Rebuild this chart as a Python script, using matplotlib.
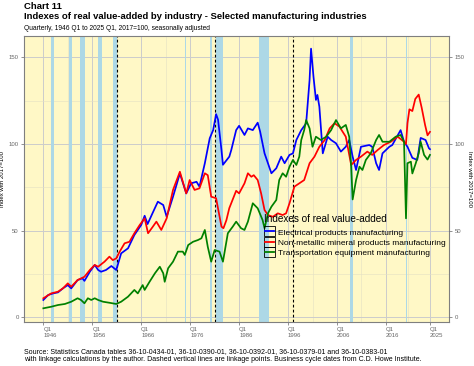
import numpy as np
import matplotlib.pyplot as plt
from matplotlib.lines import Line2D
from matplotlib.patches import Rectangle
from matplotlib.legend_handler import HandlerBase

plt.rcParams['font.family'] = ['Liberation Sans', 'DejaVu Sans']

# ── Data (year, index 2017=100) ───────────────────────────────────────────
elec_year = [1946.0, 1947.0, 1948.0, 1949.0, 1950.0, 1951.0, 1951.7, 1953.0,
             1954.0, 1954.4, 1955.5, 1956.5, 1957.2, 1957.8, 1958.8, 1959.9,
             1960.9, 1961.9, 1963.3, 1964.6, 1966.0, 1966.7, 1967.3, 1968.3,
             1969.4, 1970.5, 1971.2, 1972.5, 1973.9, 1975.2, 1976.2, 1977.3,
             1977.9, 1979.0, 1980.0, 1980.7, 1981.3, 1981.7, 1982.4, 1982.7,
             1984.0, 1984.4, 1985.4, 1986.0, 1987.1, 1987.8, 1988.8, 1989.8,
             1990.3, 1991.2, 1992.6, 1993.6, 1994.6, 1995.3, 1996.3, 1997.0,
             1997.7, 1998.7, 1999.7, 2000.4, 2000.7, 2001.2, 2001.7, 2002.0,
             2002.4, 2003.1, 2004.1, 2004.8, 2005.8, 2006.8, 2007.8, 2008.5,
             2009.2, 2009.9, 2010.9, 2012.6, 2013.2, 2014.0, 2014.6, 2015.3,
             2016.7, 2017.3, 2019.0, 2019.7, 2020.4, 2021.4, 2022.4, 2023.1,
             2024.1, 2024.8, 2025.0]
elec_val = [10.0, 12.9, 13.8, 14.4, 16.7, 18.6, 16.7, 21.5,
            22.5, 21.0, 26.3, 30.2, 27.3, 26.3, 27.3, 29.6,
            27.3, 36.9, 39.8, 47.5, 53.3, 58.6, 53.8, 60.0,
            66.7, 64.8, 58.0, 69.6, 83.0, 71.5, 77.3, 78.2,
            75.4, 88.9, 103.3, 108.0, 117.2, 114.0, 96.5, 88.0,
            92.7, 96.5, 108.0, 110.5, 105.2, 109.0, 108.0, 112.3,
            107.1, 94.6, 83.1, 86.0, 92.7, 88.9, 93.7, 94.6,
            102.3, 108.0, 111.9, 136.9, 155.0, 138.8, 125.4, 128.3,
            121.5, 94.6, 104.2, 102.3, 100.4, 95.6, 98.4, 102.3,
            92.7, 85.0, 98.4, 99.4, 98.4, 88.9, 85.0, 94.6,
            98.4, 99.4, 108.0, 101.3, 98.4, 92.0, 90.8, 103.5,
            102.3, 97.5, 97.0]

nonmet_year = [1946.0, 1947.6, 1949.0, 1950.0, 1951.0, 1951.7, 1953.0, 1954.4,
               1955.5, 1956.5, 1957.2, 1958.5, 1959.5, 1960.2, 1960.9, 1961.6,
               1962.6, 1963.6, 1964.6, 1965.7, 1966.7, 1967.4, 1968.3, 1969.1,
               1970.1, 1971.2, 1972.5, 1973.9, 1975.2, 1975.9, 1976.9, 1977.9,
               1979.0, 1979.6, 1980.3, 1981.3, 1982.4, 1982.8, 1983.4, 1984.0,
               1985.4, 1986.0, 1987.1, 1987.8, 1988.5, 1989.0, 1989.8, 1990.5,
               1991.2, 1991.9, 1992.9, 1993.9, 1994.9, 1995.6, 1996.3, 1997.3,
               1998.3, 1999.3, 2000.4, 2001.4, 2002.4, 2003.5, 2004.5, 2005.5,
               2006.5, 2007.8, 2008.9, 2009.9, 2010.9, 2012.2, 2013.2, 2014.3,
               2015.6, 2017.0, 2018.4, 2019.7, 2020.1, 2020.4, 2020.8, 2021.4,
               2022.0, 2022.7, 2023.3, 2024.0, 2024.5, 2025.0]
nonmet_val = [11.0, 13.8, 14.8, 16.7, 19.6, 17.7, 21.5, 23.4,
              27.3, 30.2, 29.2, 32.1, 35.0, 33.0, 34.0, 37.9,
              42.7, 43.6, 48.5, 53.3, 57.1, 48.5, 52.0, 55.2,
              50.4, 57.1, 73.5, 84.0, 71.5, 79.2, 73.5, 74.4,
              83.1, 82.0, 69.6, 68.7, 52.3, 51.4, 56.0, 63.0,
              73.0, 71.5, 77.3, 83.1, 81.1, 82.0, 79.2, 71.5,
              61.9, 59.0, 58.0, 60.0, 59.0, 60.0, 65.8, 75.4,
              77.3, 79.2, 88.9, 92.7, 98.4, 102.3, 109.0, 112.0,
              110.0, 104.2, 87.9, 90.8, 92.7, 95.6, 93.7, 96.5,
              99.4, 101.3, 104.2, 101.3, 100.0, 112.0, 120.0, 119.0,
              126.0, 128.5, 121.0, 111.0, 105.0, 107.0]

trans_year = [1946.0, 1947.6, 1949.0, 1950.4, 1951.7, 1953.0, 1953.7, 1954.4,
              1955.1, 1955.8, 1956.5, 1957.2, 1958.2, 1959.5, 1960.9, 1961.9,
              1963.3, 1964.6, 1965.3, 1966.3, 1966.7, 1967.7, 1968.8, 1969.8,
              1970.5, 1970.8, 1971.5, 1972.5, 1973.5, 1974.5, 1974.9, 1975.6,
              1976.6, 1977.6, 1978.3, 1979.0, 1979.6, 1980.3, 1981.0, 1982.0,
              1982.7, 1983.7, 1984.7, 1985.4, 1986.4, 1987.1, 1987.8, 1988.8,
              1989.8, 1990.8, 1991.2, 1991.9, 1992.6, 1993.6, 1994.2, 1994.9,
              1995.6, 1996.3, 1997.0, 1997.7, 1998.3, 1998.7, 1999.3, 1999.7,
              2000.4, 2001.0, 2001.7, 2002.7, 2003.8, 2004.8, 2005.8, 2006.8,
              2007.8, 2008.5, 2008.9, 2009.2, 2009.9, 2010.6, 2011.2, 2011.9,
              2012.9, 2014.0, 2014.6, 2015.3, 2016.7, 2018.0, 2019.0, 2019.7,
              2020.1, 2020.4, 2021.1, 2021.4, 2022.1, 2022.7, 2023.1, 2023.8,
              2024.5, 2025.0]
trans_val = [5.2, 6.1, 7.1, 7.7, 9.0, 11.0, 10.0, 8.1,
             11.0, 10.0, 11.0, 10.0, 9.0, 8.4, 7.7, 9.0,
             11.9, 15.8, 13.8, 18.6, 15.8, 20.5, 25.4, 29.2,
             25.4, 20.5, 28.3, 32.1, 37.9, 37.9, 36.0, 41.7,
             43.6, 44.6, 45.6, 50.4, 40.7, 32.1, 38.8, 37.9,
             32.1, 48.5, 52.3, 55.2, 51.4, 50.4, 55.2, 65.8,
             62.9, 56.1, 51.4, 60.0, 63.8, 67.7, 79.2, 83.1,
             81.1, 86.9, 90.8, 87.9, 92.7, 102.3, 108.0, 113.8,
             109.0, 98.4, 104.2, 102.3, 104.2, 108.0, 113.8, 109.0,
             111.0, 104.2, 86.9, 68.0, 79.2, 86.9, 85.0, 90.8,
             94.6, 102.3, 105.2, 101.3, 101.3, 104.2, 105.2, 101.3,
             57.1, 88.9, 89.8, 83.0, 88.9, 94.6, 101.3, 93.7,
             91.0, 93.7]

# business cycle (recession) periods and linkage points
rec_start = [1947.55, 1951.25, 1953.5, 1957.1, 1960.2, 1974.95, 1980.05,
             1981.35, 1990.15, 2008.7, 2020.05]
rec_end = [1948.1, 1951.8, 1954.45, 1957.9, 1961.05, 1975.15, 1980.45,
           1982.7, 1992.2, 2009.25, 2020.3]
linkage = [1961.0, 1981.0, 1997.0]

series_names = ['Electrical products manufacturing',
                'Non-metallic mineral products manufacturing',
                'Transportation equipment manufacturing']
series_colors = ['#0000FF', '#FF0000', '#008000']

x_major = [1946, 1956, 1966, 1976, 1986, 1996, 2006, 2016, 2025]
x_minor = [1951, 1961, 1971, 1981, 1991, 2001, 2011, 2020.5]
x_labels = [f'Q1\n{y}' for y in x_major]


class BoxedLine(HandlerBase):
    """ggplot-style legend key: outlined box with a line through it."""
    def create_artists(self, legend, orig, xd, yd, width, height, fontsize, trans):
        yc = (height - yd) / 2
        box = Rectangle((-xd, yc - 3.6), width, 7.2, fill=False,
                        ec='black', lw=0.6, transform=trans)
        seg = Line2D([-xd + 0.8, -xd + width - 0.8], [yc, yc],
                     color=orig.get_color(), lw=1.3, transform=trans)
        return [box, seg]


fig = plt.figure(figsize=(4.74, 3.66), dpi=100)
ax = fig.add_axes([24 / 474, 1 - 322 / 366, (449.3 - 24) / 474, (322 - 36) / 366])
ax.set_facecolor('#FFF8C6')

ax.set_xlim(1942.05, 2028.95)
ax.set_ylim(-2.7, 162.3)

# grid
ax.set_xticks(x_major)
ax.set_xticks(x_minor, minor=True)
ax.set_yticks([0, 50, 100, 150])
ax.set_yticks([25, 75, 125], minor=True)
ax.grid(True, which='major', color='#CCCCCC', lw=0.7)
ax.grid(True, which='minor', color='#E3E0C4', lw=0.4)
ax.set_axisbelow(True)

# recessions + linkage points
for s, e in zip(rec_start, rec_end):
    ax.axvspan(s, e, color='#ADD8E6', lw=0, zorder=1)
for x in linkage:
    ax.axvline(x, color='black', lw=0.8, ls=(0, (2.5, 2)), zorder=2)

# series
handles = []
for yr, val, name, col in zip([elec_year, nonmet_year, trans_year],
                              [elec_val, nonmet_val, trans_val],
                              series_names, series_colors):
    h, = ax.plot(yr, val, color=col, lw=1.25, zorder=3, label=name)
    handles.append(h)

# axes styling
ax.set_xticklabels(x_labels, ha='left', multialignment='left')
ax.tick_params(axis='both', which='major', labelsize=4.3, colors='#666666',
               length=2.2, width=0.5, labelcolor='#666666', pad=1.5)
ax.tick_params(axis='both', which='minor', length=0)
for sp in ax.spines.values():
    sp.set_color('#7F7F7F')
    sp.set_linewidth(0.8)
ax.set_ylabel('Index with 2017=100', fontsize=4.3, labelpad=3)

ax2 = ax.twinx()
ax2.set_ylim(ax.get_ylim())
ax2.set_yticks([0, 50, 100, 150])
ax2.tick_params(axis='y', labelsize=4.3, colors='#666666', length=2.2,
                width=0.5, labelcolor='#666666', pad=1.5)
ax2.set_ylabel('Index with 2017=100', fontsize=4.3, rotation=270,
               labelpad=5)
for sp in ax2.spines.values():
    sp.set_visible(False)

# legend
leg = ax.legend(handles=handles, title='Indexes of real value-added',
                handler_map={Line2D: BoxedLine()},
                loc='upper left', bbox_to_anchor=(264 / 474, 1 - 214 / 366),
                bbox_transform=fig.transFigure, frameon=False,
                fontsize=6.0, title_fontsize=7.2, alignment='left',
                handlelength=1.28, handleheight=1.0, handletextpad=0.4,
                labelspacing=0.2, borderpad=0, borderaxespad=0)
leg._legend_box.sep = 3
leg.set_zorder(5)

# titles and caption
fig.text(24 / 474, 1 - 6.6 / 366, 'Chart 11', fontsize=6.8,
         fontweight='bold', va='center', ha='left')
fig.text(24 / 474, 1 - 16.2 / 366,
         'Indexes of real value-added by industry - Selected manufacturing industries',
         fontsize=6.8, fontweight='bold', va='center', ha='left')
fig.text(24 / 474, 1 - 28.3 / 366,
         'Quarterly, 1946 Q1 to 2025 Q1, 2017=100, seasonally adjusted',
         fontsize=4.75, va='center', ha='left')
fig.text(24 / 474, 1 - 351.7 / 366,
         'Source: Statistics Canada tables 36-10-0434-01, 36-10-0390-01, '
         '36-10-0392-01, 36-10-0379-01 and 36-10-0383-01',
         fontsize=5.07, va='center', ha='left')
fig.text(24 / 474, 1 - 359.5 / 366,
         'with linkage calculations by the author. Dashed vertical lines are '
         'linkage points. Business cycle dates from C.D. Howe Institute.',
         fontsize=5.07, va='center', ha='left')

fig.savefig('out.png', dpi=100)
